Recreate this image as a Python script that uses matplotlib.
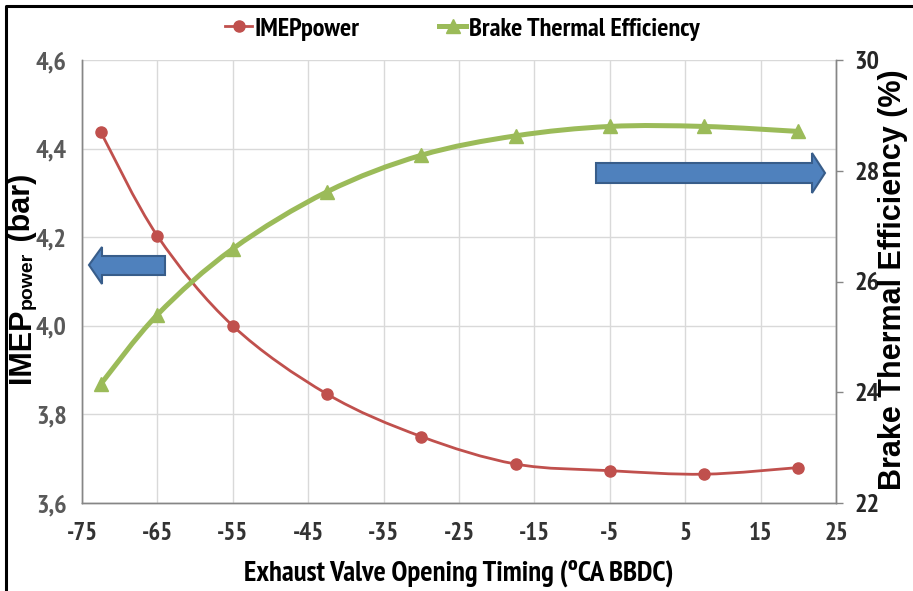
import matplotlib
matplotlib.use("Agg")
import matplotlib.pyplot as plt
from matplotlib.path import Path
from matplotlib.patches import PathPatch, Polygon
from matplotlib.lines import Line2D
import matplotlib.font_manager as fm

# ---------------- data ----------------
evo_timing = [-72.5, -65, -55, -42.5, -30, -17.5, -5, 7.5, 20]
imep_power = [4.437, 4.203, 4.000, 3.846, 3.750, 3.688, 3.673, 3.665, 3.680]
bte = [24.15, 25.40, 26.59, 27.62, 28.28, 28.63, 28.80, 28.80, 28.71]
x_ticks = [-75, -65, -55, -45, -35, -25, -15, -5, 5, 15, 25]
left_ticks = [3.6, 3.8, 4.0, 4.2, 4.4, 4.6]
right_ticks = [22, 24, 26, 28, 30]

bold_names = {f.name for f in fm.fontManager.ttflist
              if isinstance(f.weight, int) and f.weight >= 700
              or f.weight in ('bold', 'heavy', 'black')}
narrow = 'Liberation Sans'
for cand in ('Liberation Sans Narrow', 'Arimo Narrow', 'PT Sans Narrow',
             'Archivo Narrow', 'Roboto Condensed', 'Fira Sans Condensed',
             'IBM Plex Sans Condensed', 'Encode Sans Condensed',
             'Asap Condensed', 'Barlow Semi Condensed'):
    if cand in bold_names:
        narrow = cand
        break
wide = 'Liberation Sans'

RED = '#C0504D'
GREEN = '#9BBB59'
GRID = '#D9D9D9'
AX = '#868686'

fig = plt.figure(figsize=(9.13, 5.91), dpi=100)
ax = fig.add_axes([82/913, 88/591, 754/913, 443/591])
ax2 = ax.twinx()
renderer = fig.canvas.get_renderer()


def smooth_path(xs, ys):
    pts = list(zip(xs, ys))
    verts = [pts[0]]
    codes = [Path.MOVETO]
    n = len(pts)
    for i in range(n - 1):
        p0 = pts[i - 1] if i > 0 else pts[i]
        p1 = pts[i]
        p2 = pts[i + 1]
        p3 = pts[i + 2] if i + 2 < n else pts[i + 1]
        c1 = (p1[0] + (p2[0] - p0[0]) / 6, p1[1] + (p2[1] - p0[1]) / 6)
        c2 = (p2[0] - (p3[0] - p1[0]) / 6, p2[1] - (p3[1] - p1[1]) / 6)
        verts += [c1, c2, p2]
        codes += [Path.CURVE4] * 3
    return Path(verts, codes)


ax.add_patch(PathPatch(smooth_path(evo_timing, imep_power), fill=False,
                       edgecolor=RED, lw=2.0, zorder=3))
ax.plot(evo_timing, imep_power, linestyle='none', marker='o', color=RED,
        markersize=8, zorder=4)

ax2.add_patch(PathPatch(smooth_path(evo_timing, bte), fill=False,
                        edgecolor=GREEN, lw=3.6, zorder=3))
ax2.plot(evo_timing, bte, linestyle='none', marker='^', color=GREEN,
         markersize=10, zorder=4)

ax.set_xlim(-75, 25)
ax.set_ylim(3.6, 4.6)
ax2.set_ylim(22, 30)
ax.set_xticks(x_ticks)
ax.set_xticklabels([str(t) for t in x_ticks])
ax.set_yticks(left_ticks)
ax.set_yticklabels([f"{t:.1f}".replace('.', ',') for t in left_ticks])
ax2.set_yticks(right_ticks)
ax2.set_yticklabels([str(t) for t in right_ticks])

ax.grid(True, color=GRID, lw=1.0)
ax.set_axisbelow(True)
for a in (ax, ax2):
    a.spines['top'].set_visible(False)
    for s in ('left', 'right', 'bottom'):
        a.spines[s].set_color(AX)
        a.spines[s].set_linewidth(1.0)

# x label, fitted to the reference width
xl = ax.set_xlabel('Exhaust Valve Opening Timing (ºCA BBDC)', fontsize=18,
                   fontweight='bold', family=narrow, labelpad=10)
w = xl.get_window_extent(renderer).width
k = 431.0 / w
xl.set_fontsize(18 * k)

ax.tick_params(axis='x', length=0, pad=14, labelsize=15.5 * k, labelcolor='#333333')
ax.tick_params(axis='y', length=0, pad=11, labelsize=16.5 * k, labelcolor='#595959')
ax2.tick_params(axis='y', length=5, width=1, color=AX, pad=8, labelsize=16.5 * k,
                labelcolor='#262626')
for lab in ax.get_xticklabels() + ax.get_yticklabels() + ax2.get_yticklabels():
    lab.set_fontfamily(narrow)
    lab.set_fontweight('bold')

# right label
ax2.set_ylabel('Brake Thermal Efficiency (%)', fontsize=22, fontweight='bold',
               family=wide)
ax2.yaxis.set_label_coords((878 - 82) / 754, (503 - 280) / 443)

# left label built from pieces: IMEP + subscript power + (bar)
y0 = 383
pieces = [('IMEP', 22, 0, 0), ('power', 14, 1, 2), (' (bar)', 22, 1, 0)]
ycur = y0
for txt, fs, gap, shift in pieces:
    t = fig.text((30 + shift) / 913, 1 - ycur / 591, txt, rotation=90,
                 rotation_mode='anchor', ha='left', va='baseline',
                 fontsize=fs, fontweight='bold', family=wide, color='black')
    ext = t.get_window_extent(renderer)
    ycur -= ext.height + gap


def px2ax(px, py):
    return ((px - 82) / 754, (503 - py) / 443)


left_arrow = [(89, 265), (102, 247), (102, 256), (165, 256), (165, 275),
              (102, 275), (102, 284)]
right_arrow = [(596, 163), (812, 163), (812, 153), (825, 173), (812, 193),
               (812, 183), (596, 183)]
for poly in (left_arrow, right_arrow):
    ax2.add_patch(Polygon([px2ax(*p) for p in poly], closed=True,
                          transform=ax.transAxes, facecolor='#4F81BD',
                          edgecolor='#385D8A', lw=1.5, zorder=5, clip_on=False))

h1 = Line2D([], [], color=RED, lw=2.0, marker='o', markersize=8)
h2 = Line2D([], [], color=GREEN, lw=3.6, marker='^', markersize=10)
leg = fig.legend([h1, h2], ['IMEPpower', 'Brake Thermal Efficiency'],
                 loc='center', bbox_to_anchor=(462/913, 1 - 29/591), ncol=2,
                 frameon=False, numpoints=1, handlelength=1.05,
                 handletextpad=0.08, columnspacing=3.0,
                 prop={'family': narrow, 'weight': 'bold', 'size': 19})
lt = leg.get_texts()[0]
kl = 105.0 / lt.get_window_extent(renderer).width
for t in leg.get_texts():
    t.set_fontsize(19 * kl)

fig.add_artist(Line2D([6/913, 6/913, 1], [0, 1 - 6/591, 1 - 6/591],
                      transform=fig.transFigure, color='black', lw=2.2))

fig.savefig('out.png', dpi=100)
